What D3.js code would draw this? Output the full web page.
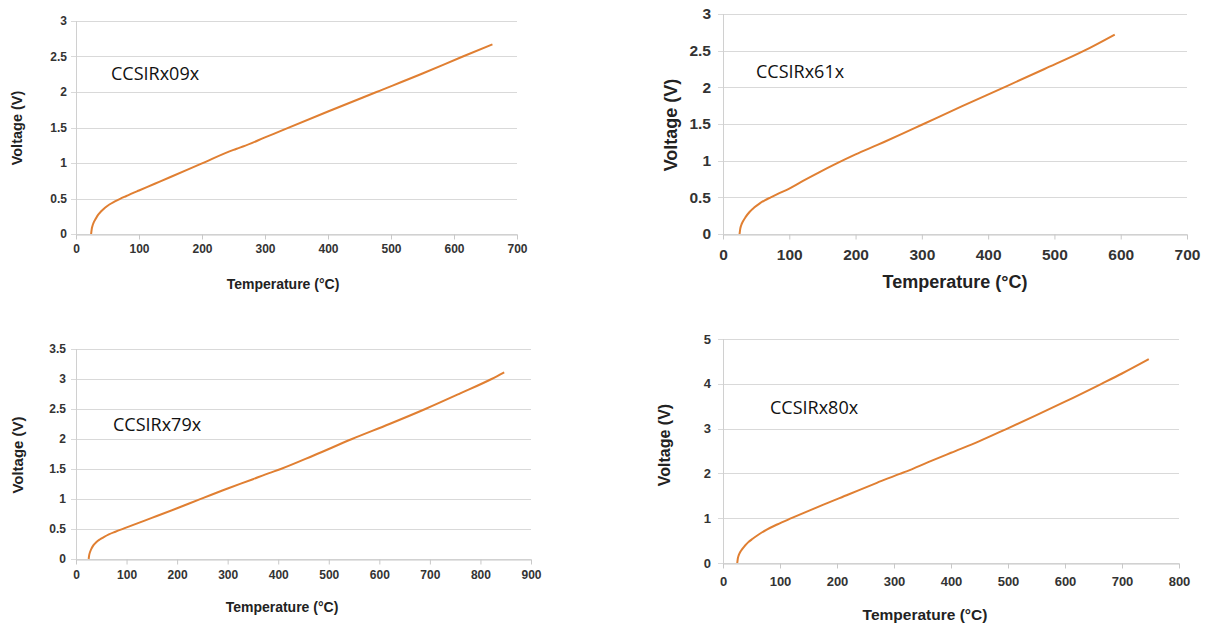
<!DOCTYPE html>
<meta charset="utf-8">
<script src="https://cdn.jsdelivr.net/npm/d3@7"></script>
<style>
  body { margin: 0; background: #fff; }
  .tick text { font-family: "Liberation Sans", Arial, sans-serif; font-weight: bold; fill: #333; }
  .axis-title { font-family: "Liberation Sans", Arial, sans-serif; font-weight: bold; fill: #222; }
  .part-label { font-family: "Open Sans", sans-serif; fill: #111; }
  .grid line { stroke: #d9d9d9; }
  .curve { fill: none; stroke: #e07f32; stroke-width: 2; }
</style>
<div id="chart"></div>
<script>

// sensor names
const parts = ["CCSIRx09x", "CCSIRx61x", "CCSIRx79x", "CCSIRx80x"];

// temperature axis (°C) and voltage axis (V) ranges
const tempMax = [700, 700, 900, 800];
const voltMax = [3, 3, 3.5, 5];
const voltStep = [0.5, 0.5, 0.5, 1];

// curves: [temperature, voltage]
const curve09 = [[24,0],[25,0.07],[26,0.11],[28,0.16],[31,0.21],[35,0.27],[40,0.32],[46,0.37],[53,0.415],
  [61,0.455],[70,0.495],[80,0.535],[90,0.575],[100,0.613],[125,0.708],[150,0.803],[200,0.995],
  [250,1.185],[258,1.21],[265,1.232],[300,1.36],[330,1.47],[400,1.725],[477,2.0],[550,2.26],
  [614,2.5],[661,2.67]];
const curve61 = [[25,0],[26,0.07],[27.5,0.12],[30,0.17],[34,0.23],[40,0.3],[47,0.36],[55,0.415],[63,0.46],
  [72,0.5],[85,0.557],[100,0.62],[120,0.72],[145,0.84],[170,0.955],[200,1.085],[233,1.215],
  [243,1.255],[270,1.365],[300,1.49],[360,1.74],[424,2.0],[485,2.25],[545,2.5],[591,2.72]];
const curve79 = [[25,0],[26,0.06],[28,0.12],[31,0.18],[35,0.235],[40,0.28],[47,0.325],[55,0.365],[65,0.41],
  [78,0.455],[95,0.51],[120,0.59],[150,0.685],[200,0.845],[242,0.985],[300,1.175],[350,1.33],
  [375,1.41],[385,1.44],[405,1.5],[470,1.725],[546,2.0],[620,2.25],[691,2.5],[760,2.76],
  [822,3.0],[847,3.11]];
const curve80 = [[25,0],[26,0.1],[27.5,0.17],[30,0.24],[33,0.3],[38,0.38],[44,0.46],[52,0.54],[62,0.63],
  [76,0.74],[95,0.86],[120,1.0],[145,1.135],[170,1.27],[220,1.53],[270,1.79],[310,1.99],
  [322,2.045],[360,2.25],[400,2.46],[450,2.72],[497,2.99],[550,3.3],[600,3.6],[664,4.0],
  [700,4.23],[747,4.55]];
const curves = [curve09, curve61, curve79, curve80];

// where each panel sits on the page
const layout = [
  {x0: 76, x1: 517, y0: 234, y1: 21, tickSize: 12, xTickY: 252, yTickX: 67, xTitle: [283, 289], yTitle: [17, 128], titleSize: 14, yTitleSize: 14.5, label: [111, 80]},
  {x0: 723, x1: 1187, y0: 234, y1: 14, tickSize: 15.5, xTickY: 259, yTickX: 711, xTitle: [955, 288], yTitle: [671, 125], titleSize: 18, yTitleSize: 18, label: [756, 78]},
  {x0: 76, x1: 531, y0: 559, y1: 349, tickSize: 12, xTickY: 578, yTickX: 66, xTitle: [282, 612], yTitle: [18, 455], titleSize: 14, yTitleSize: 15, label: [113, 431]},
  {x0: 723, x1: 1179, y0: 563, y1: 339, tickSize: 13, xTickY: 585, yTickX: 711, xTitle: [925, 620], yTitle: [664, 445], titleSize: 15.5, yTitleSize: 16, label: [770, 414]}
];

const svg = d3.select("#chart").append("svg")
  .attr("width", 1214)
  .attr("height", 628);

parts.forEach(function(name, i) {
  const L = layout[i];
  const x = d3.scaleLinear().domain([0, tempMax[i]]).range([L.x0, L.x1]);
  const y = d3.scaleLinear().domain([0, voltMax[i]]).range([L.y0, L.y1]);
  const g = svg.append("g");

  const yTicks = d3.range(0, voltMax[i] + 1e-9, voltStep[i]);
  const xTicks = d3.range(0, tempMax[i] + 1, 100);

  // horizontal gridlines with the little stub left of the axis
  g.append("g").attr("class", "grid")
    .selectAll("line").data(yTicks).enter().append("line")
    .attr("x1", L.x0 - 5).attr("x2", L.x1)
    .attr("y1", d => Math.round(y(d)) + 0.5).attr("y2", d => Math.round(y(d)) + 0.5);

  // y axis line
  g.append("line")
    .attr("x1", L.x0 + 0.5).attr("x2", L.x0 + 0.5)
    .attr("y1", L.y1).attr("y2", L.y0)
    .attr("stroke", "#d0d0d0");

  // x axis with ticks below
  const xAxis = g.append("g")
    .attr("transform", "translate(0," + (Math.round(L.y0) + 0.5) + ")")
    .call(d3.axisBottom(x).tickValues(xTicks).tickSize(5).tickSizeOuter(0).tickFormat(d3.format("d")));
  xAxis.select(".domain").attr("stroke", "#c8c8c8");
  xAxis.selectAll(".tick line").attr("stroke", "#c8c8c8");
  xAxis.selectAll(".tick text")
    .attr("y", L.xTickY - L.y0).attr("dy", 0)
    .style("font-size", L.tickSize + "px");

  // y tick labels
  g.selectAll(".ylab").data(yTicks).enter().append("text")
    .attr("x", L.yTickX)
    .attr("y", d => y(d))
    .attr("dy", "0.35em")
    .attr("text-anchor", "end")
    .style("font-family", "'Liberation Sans', Arial, sans-serif")
    .style("font-weight", "bold")
    .style("fill", "#333")
    .style("font-size", L.tickSize + "px")
    .text(d => d);

  // axis titles
  g.append("text").attr("class", "axis-title")
    .attr("x", L.xTitle[0]).attr("y", L.xTitle[1])
    .attr("text-anchor", "middle")
    .style("font-size", L.titleSize + "px")
    .text("Temperature (°C)");

  g.append("text").attr("class", "axis-title")
    .attr("transform", "translate(" + L.yTitle[0] + "," + L.yTitle[1] + ") rotate(-90)")
    .attr("text-anchor", "middle")
    .attr("dy", "0.35em")
    .style("font-size", L.yTitleSize + "px")
    .text("Voltage (V)");

  // part name inside the plot
  g.append("text").attr("class", "part-label")
    .attr("x", L.label[0]).attr("y", L.label[1])
    .style("font-size", "18px")
    .text(name);

  // the curve
  const line = d3.line()
    .x(d => x(d[0]))
    .y(d => y(d[1]))
    .curve(d3.curveMonotoneX);

  g.append("path")
    .datum(curves[i])
    .attr("class", "curve")
    .attr("d", line);
});

</script>
